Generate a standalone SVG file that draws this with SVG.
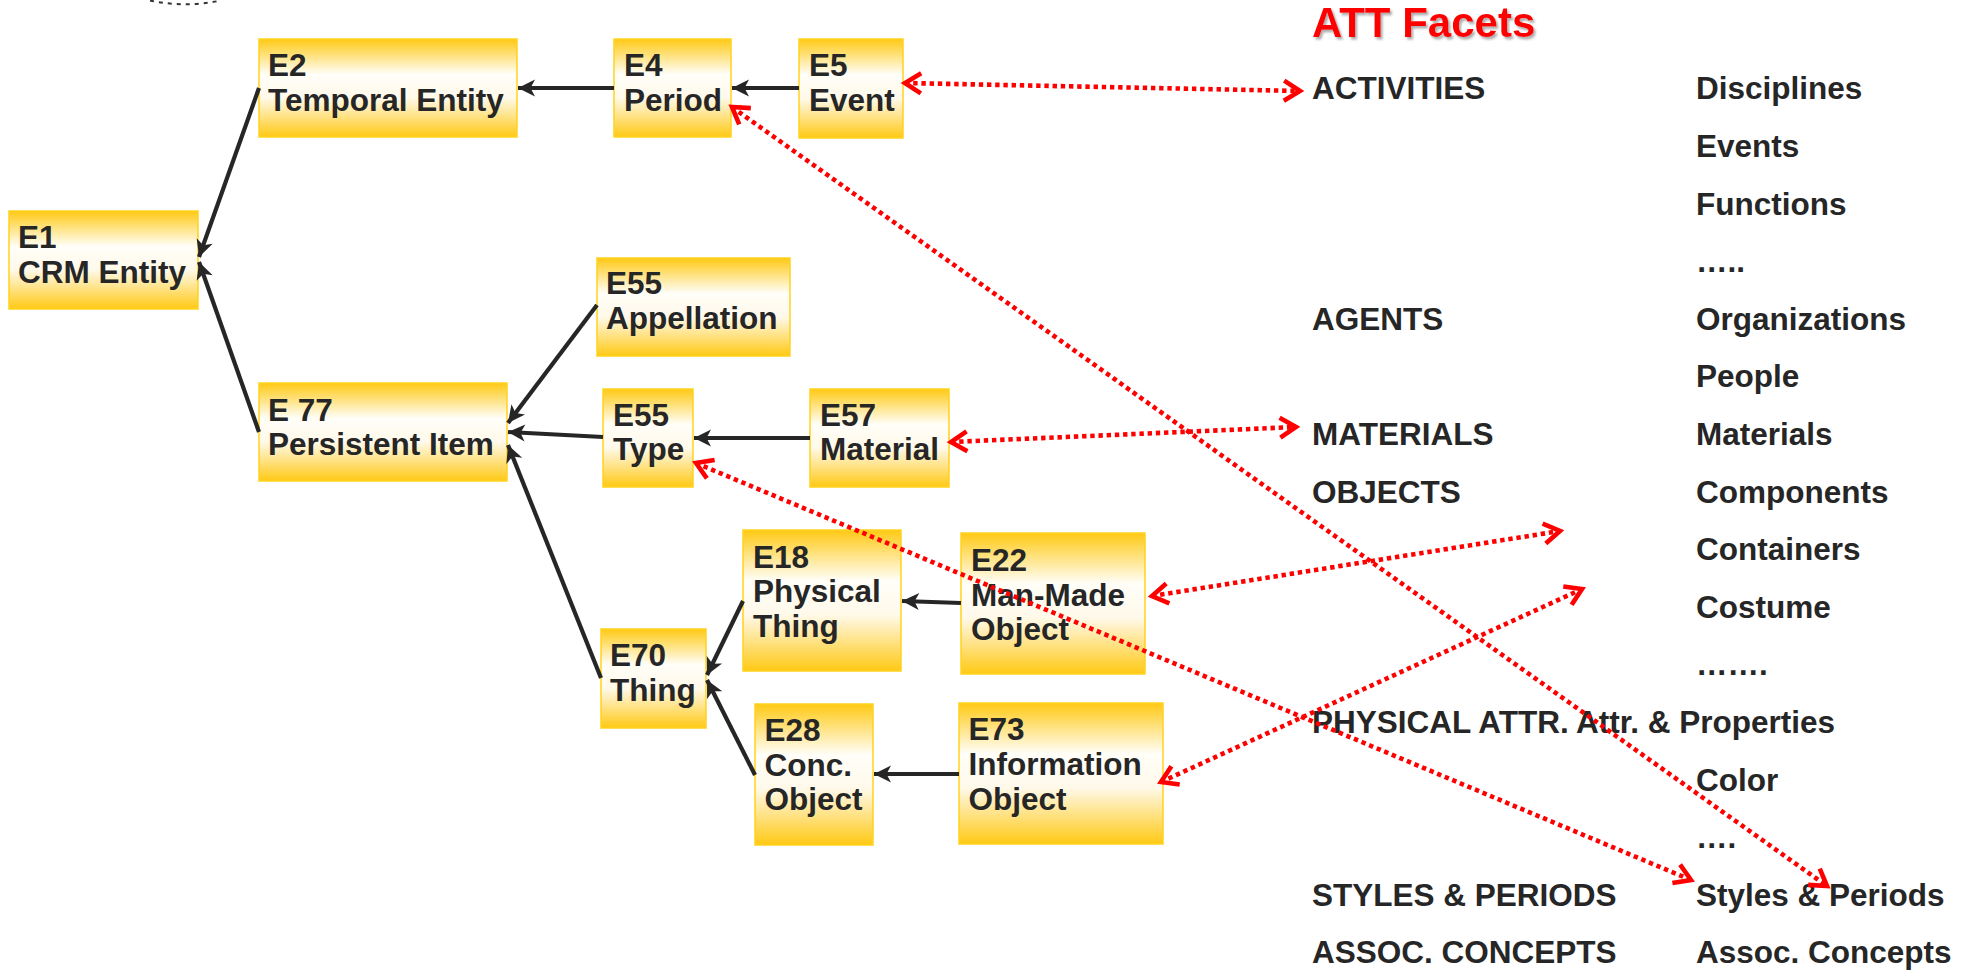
<svg xmlns="http://www.w3.org/2000/svg" width="1973" height="970" viewBox="0 0 1973 970">
<style>
.box{fill:url(#gold);stroke:#FFD21F;stroke-width:1.5}
.t{font-family:"Liberation Sans",Arial,sans-serif;font-weight:bold;font-size:31.5px;fill:#262626}
.title{font-family:"Liberation Sans",Arial,sans-serif;font-weight:bold;font-size:42px;fill:#FF0000}
.blk{stroke:#262626;stroke-width:4.2;fill:none;marker-end:url(#ah)}
.red{stroke:#FF0000;stroke-width:4.6;fill:none;stroke-dasharray:4.4 3.8;marker-start:url(#rh);marker-end:url(#rh)}
</style>
<defs>
<linearGradient id="gold" x1="0" y1="0" x2="0" y2="1">
<stop offset="0" stop-color="#FFC914"/>
<stop offset="0.36" stop-color="#FFFEF8"/>
<stop offset="0.6" stop-color="#FFF9EA"/>
<stop offset="1" stop-color="#FFC914"/>
</linearGradient>
<marker id="ah" viewBox="-19 -11 21 22" refX="0" refY="0" markerWidth="21" markerHeight="22" markerUnits="userSpaceOnUse" orient="auto">
<path d="M0,0 L-17,-8.5 L-12.5,0 L-17,8.5 Z" fill="#262626"/>
</marker>
<marker id="rh" viewBox="-21 -14 28 28" refX="0" refY="0" markerWidth="28" markerHeight="28" markerUnits="userSpaceOnUse" orient="auto-start-reverse">
<path d="M-16,-10 L0,0 L-16,10" fill="none" stroke="#FF0000" stroke-width="4.6"/>
</marker>
<filter id="shadow" x="-10%" y="-20%" width="120%" height="150%">
<feDropShadow dx="2" dy="2.5" stdDeviation="1.2" flood-color="#777777" flood-opacity="0.6"/>
</filter>
</defs>
<rect width="1973" height="970" fill="#FFFFFF"/>
<path d="M150,0.5 Q185,8 221,0.5" fill="none" stroke="#333333" stroke-width="2" stroke-dasharray="4 5"/>

<g id="E1"><rect class="box" x="9" y="211" width="189" height="98"/><text class="t" x="18" y="248">E1</text><text class="t" x="18" y="283">CRM Entity</text></g>
<g id="E2"><rect class="box" x="259" y="39" width="258" height="98"/><text class="t" x="268" y="76">E2</text><text class="t" x="268" y="111">Temporal Entity</text></g>
<g id="E4"><rect class="box" x="614" y="39" width="117" height="98"/><text class="t" x="624" y="76">E4</text><text class="t" x="624" y="111">Period</text></g>
<g id="E5"><rect class="box" x="799" y="39" width="104" height="99"/><text class="t" x="809" y="76">E5</text><text class="t" x="809" y="111">Event</text></g>
<g id="E55a"><rect class="box" x="597" y="258" width="193" height="98"/><text class="t" x="606" y="294">E55</text><text class="t" x="606" y="329">Appellation</text></g>
<g id="E77"><rect class="box" x="259" y="383" width="248" height="98"/><text class="t" x="268" y="421">E 77</text><text class="t" x="268" y="455">Persistent Item</text></g>
<g id="E55t"><rect class="box" x="603" y="389" width="90" height="98"/><text class="t" x="613" y="426">E55</text><text class="t" x="613" y="460">Type</text></g>
<g id="E57"><rect class="box" x="810" y="389" width="139" height="98"/><text class="t" x="820" y="426">E57</text><text class="t" x="820" y="460">Material</text></g>
<g id="E18"><rect class="box" x="743" y="530" width="158" height="141"/><text class="t" x="753" y="567.5">E18</text><text class="t" x="753" y="602">Physical</text><text class="t" x="753" y="636.5">Thing</text></g>
<g id="E22"><rect class="box" x="961" y="533" width="184" height="141"/><text class="t" x="971" y="571">E22</text><text class="t" x="971" y="605.5">Man-Made</text><text class="t" x="971" y="640">Object</text></g>
<g id="E70"><rect class="box" x="601" y="629" width="105" height="99"/><text class="t" x="610" y="666">E70</text><text class="t" x="610" y="701">Thing</text></g>
<g id="E28"><rect class="box" x="755" y="704" width="118" height="141"/><text class="t" x="764.5" y="741">E28</text><text class="t" x="764.5" y="775.5">Conc.</text><text class="t" x="764.5" y="810">Object</text></g>
<g id="E73"><rect class="box" x="959" y="703" width="204" height="141"/><text class="t" x="968.5" y="740">E73</text><text class="t" x="968.5" y="775">Information</text><text class="t" x="968.5" y="809.5">Object</text></g>

<g id="facets">
<text class="title" x="1312" y="37" filter="url(#shadow)">ATT Facets</text>
<text class="t" x="1312" y="99.3">ACTIVITIES</text>
<text class="t" x="1696" y="99.3">Disciplines</text>
<text class="t" x="1696" y="156.9">Events</text>
<text class="t" x="1696" y="214.5">Functions</text>
<text class="t" x="1696" y="272.1">…..</text>
<text class="t" x="1312" y="329.7">AGENTS</text>
<text class="t" x="1696" y="329.7">Organizations</text>
<text class="t" x="1696" y="387.3">People</text>
<text class="t" x="1312" y="444.9">MATERIALS</text>
<text class="t" x="1696" y="444.9">Materials</text>
<text class="t" x="1312" y="502.5">OBJECTS</text>
<text class="t" x="1696" y="502.5">Components</text>
<text class="t" x="1696" y="560.1">Containers</text>
<text class="t" x="1696" y="617.7">Costume</text>
<text class="t" x="1696" y="675.3">…….</text>
<text class="t" x="1312" y="732.9">PHYSICAL ATTR.</text>
<text class="t" x="1576" y="732.9">Attr. &amp; Properties</text>
<text class="t" x="1696" y="790.5">Color</text>
<text class="t" x="1696" y="848.1">….</text>
<text class="t" x="1312" y="905.7">STYLES &amp; PERIODS</text>
<text class="t" x="1696" y="905.7">Styles &amp; Periods</text>
<text class="t" x="1312" y="963.3">ASSOC. CONCEPTS</text>
<text class="t" x="1696" y="963.3">Assoc. Concepts</text>
</g>

<g id="connectors">
<line class="blk" x1="259" y1="88" x2="199" y2="257"/>
<line class="blk" x1="259" y1="432" x2="199" y2="262"/>
<line class="blk" x1="614" y1="88" x2="518" y2="88"/>
<line class="blk" x1="799" y1="88" x2="732" y2="88"/>
<line class="blk" x1="597" y1="305" x2="508" y2="423"/>
<line class="blk" x1="603" y1="437" x2="508" y2="432"/>
<line class="blk" x1="601" y1="678" x2="508" y2="445"/>
<line class="blk" x1="810" y1="438" x2="694" y2="438"/>
<line class="blk" x1="743" y1="601" x2="707" y2="675"/>
<line class="blk" x1="755" y1="775" x2="707" y2="680"/>
<line class="blk" x1="961" y1="603" x2="902" y2="601"/>
<line class="blk" x1="959" y1="774" x2="874" y2="774"/>
<line class="red" x1="905" y1="83" x2="1300" y2="91"/>
<line class="red" x1="732" y1="107" x2="1827" y2="886"/>
<line class="red" x1="951" y1="442" x2="1296" y2="427"/>
<line class="red" x1="696" y1="463" x2="1691" y2="880"/>
<line class="red" x1="1152" y1="596" x2="1560" y2="531"/>
<line class="red" x1="1161" y1="782" x2="1582" y2="589"/>
</g>
</svg>
